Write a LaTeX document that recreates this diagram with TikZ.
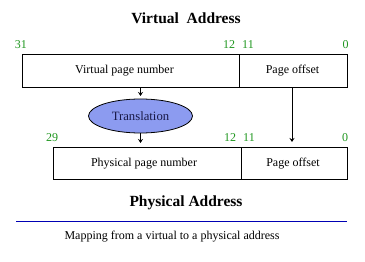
\documentclass[tikz,border=0pt]{standalone}
\usepackage{fontspec}
\setmainfont{Liberation Serif}
\usetikzlibrary{arrows.meta,shapes.geometric}
\definecolor{bitgreen}{RGB}{30,150,30}
\definecolor{ellfill}{RGB}{140,155,240}
\definecolor{elltext}{RGB}{25,25,70}
\definecolor{rulenavy}{RGB}{0,0,180}
\tikzset{
  field/.style={draw, line width=0.8pt, inner sep=0pt},
  bit/.style={text=bitgreen, font=\fontsize{12}{12}\selectfont, inner sep=0pt},
  lbl/.style={font=\fontsize{12}{12}\selectfont, inner sep=0pt},
  ttl/.style={font=\fontsize{15.5}{16}\selectfont\bfseries, inner sep=0pt},
  arr/.style={-{Stealth[length=4pt,width=5pt]}, line width=0.8pt},
}
\begin{document}
\begin{tikzpicture}[x=1pt,y=-1pt]
\useasboundingbox (0,0) rectangle (365,262);
% titles
\node[ttl] (vtitle) at (186,18) {Virtual\ \ Address};
\node[ttl] (ptitle) at (186,203) {Physical Address};
% virtual address boxes
\node[field, minimum width=217pt, minimum height=33pt] (vpn) at (130.5,70.5) {};
\node[field, minimum width=108pt, minimum height=33pt] (voff) at (293,70.5) {};
\node[lbl] (vpnt) at (124.5,71) {Virtual page number};
\node[lbl] (vofft) at (292.5,71) {Page offset};
% virtual bit numbers
\node[bit] (b31) at (21,45) {31};
\node[bit] (b12a) at (229,45) {12};
\node[bit] (b11a) at (248,45) {11};
\node[bit] (b0a) at (345.5,45) {0};
% translation
\node[draw, ellipse, fill=ellfill, text=elltext, line width=0.8pt, minimum width=104pt, minimum height=34pt, inner sep=0pt, font=\fontsize{12.7}{13}\selectfont] (tr) at (140.5,116) {Translation};
% physical address boxes
\node[field, minimum width=188pt, minimum height=32pt] (ppn) at (147,163) {};
\node[field, minimum width=106pt, minimum height=32pt] (poff) at (294,163) {};
\node[lbl] (ppnt) at (144,164) {Physical page number};
\node[lbl] (pofft) at (293,164) {Page offset};
% physical bit numbers
\node[bit] (b29) at (52,138) {29};
\node[bit] (b12b) at (230,138) {12};
\node[bit] (b11b) at (249,138) {11};
\node[bit] (b0b) at (345,138) {0};
% arrows
\coordinate (a1) at (140.5,96);
\coordinate (a2) at (140.5,143);
\coordinate (a3) at (292,142);
\draw[arr] (vpn.south -| a1) -- (a1);
\draw[arr] (tr.south) -- (a2);
\draw[arr] (voff.south -| a3) -- (a3);
% rule and caption
\coordinate (r1) at (16,221);
\coordinate (r2) at (347,221);
\draw[rulenavy, line width=0.9pt] (r1) -- (r2);
\node[lbl] (cap) at (172,237) {Mapping from a virtual to a physical address};
\end{tikzpicture}
\end{document}
